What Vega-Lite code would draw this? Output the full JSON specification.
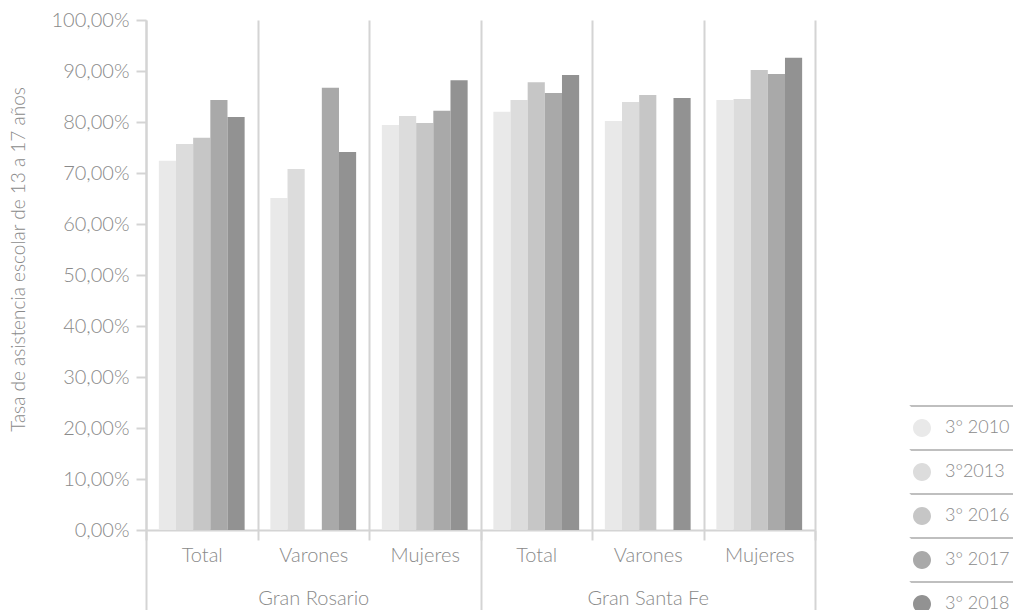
{
  "$schema": "https://vega.github.io/schema/vega-lite/v6.json",
  "autosize": {"type": "none"},
  "padding": {"left": 146, "top": 20, "right": 199, "bottom": 80},
  "width": 669,
  "height": 510,
  "background": "white",
  "config": {"view": {"stroke": null}, "font": "Lato"},
  "data": {"values": [
    {"region": "Gran Rosario", "grupo": "Gran Rosario|Total", "serie": "3° 2010", "valor": 0.724},
    {"region": "Gran Rosario", "grupo": "Gran Rosario|Total", "serie": "3°2013", "valor": 0.757},
    {"region": "Gran Rosario", "grupo": "Gran Rosario|Total", "serie": "3° 2016", "valor": 0.769},
    {"region": "Gran Rosario", "grupo": "Gran Rosario|Total", "serie": "3° 2017", "valor": 0.843},
    {"region": "Gran Rosario", "grupo": "Gran Rosario|Total", "serie": "3° 2018", "valor": 0.810},
    {"region": "Gran Rosario", "grupo": "Gran Rosario|Varones", "serie": "3° 2010", "valor": 0.651},
    {"region": "Gran Rosario", "grupo": "Gran Rosario|Varones", "serie": "3°2013", "valor": 0.708},
    {"region": "Gran Rosario", "grupo": "Gran Rosario|Varones", "serie": "3° 2017", "valor": 0.867},
    {"region": "Gran Rosario", "grupo": "Gran Rosario|Varones", "serie": "3° 2018", "valor": 0.741},
    {"region": "Gran Rosario", "grupo": "Gran Rosario|Mujeres", "serie": "3° 2010", "valor": 0.794},
    {"region": "Gran Rosario", "grupo": "Gran Rosario|Mujeres", "serie": "3°2013", "valor": 0.812},
    {"region": "Gran Rosario", "grupo": "Gran Rosario|Mujeres", "serie": "3° 2016", "valor": 0.798},
    {"region": "Gran Rosario", "grupo": "Gran Rosario|Mujeres", "serie": "3° 2017", "valor": 0.822},
    {"region": "Gran Rosario", "grupo": "Gran Rosario|Mujeres", "serie": "3° 2018", "valor": 0.882},
    {"region": "Gran Santa Fe", "grupo": "Gran Santa Fe|Total", "serie": "3° 2010", "valor": 0.820},
    {"region": "Gran Santa Fe", "grupo": "Gran Santa Fe|Total", "serie": "3°2013", "valor": 0.843},
    {"region": "Gran Santa Fe", "grupo": "Gran Santa Fe|Total", "serie": "3° 2016", "valor": 0.878},
    {"region": "Gran Santa Fe", "grupo": "Gran Santa Fe|Total", "serie": "3° 2017", "valor": 0.857},
    {"region": "Gran Santa Fe", "grupo": "Gran Santa Fe|Total", "serie": "3° 2018", "valor": 0.892},
    {"region": "Gran Santa Fe", "grupo": "Gran Santa Fe|Varones", "serie": "3° 2010", "valor": 0.802},
    {"region": "Gran Santa Fe", "grupo": "Gran Santa Fe|Varones", "serie": "3°2013", "valor": 0.839},
    {"region": "Gran Santa Fe", "grupo": "Gran Santa Fe|Varones", "serie": "3° 2016", "valor": 0.853},
    {"region": "Gran Santa Fe", "grupo": "Gran Santa Fe|Varones", "serie": "3° 2018", "valor": 0.847},
    {"region": "Gran Santa Fe", "grupo": "Gran Santa Fe|Mujeres", "serie": "3° 2010", "valor": 0.843},
    {"region": "Gran Santa Fe", "grupo": "Gran Santa Fe|Mujeres", "serie": "3°2013", "valor": 0.845},
    {"region": "Gran Santa Fe", "grupo": "Gran Santa Fe|Mujeres", "serie": "3° 2016", "valor": 0.902},
    {"region": "Gran Santa Fe", "grupo": "Gran Santa Fe|Mujeres", "serie": "3° 2017", "valor": 0.894},
    {"region": "Gran Santa Fe", "grupo": "Gran Santa Fe|Mujeres", "serie": "3° 2018", "valor": 0.926}
  ]},
  "layer": [
    {
      "mark": {"type": "bar"},
      "encoding": {
        "x": {
          "field": "grupo", "type": "nominal",
          "scale": {
            "domain": ["Gran Rosario|Total", "Gran Rosario|Varones", "Gran Rosario|Mujeres", "Gran Santa Fe|Total", "Gran Santa Fe|Varones", "Gran Santa Fe|Mujeres"],
            "paddingInner": 0, "paddingOuter": 0
          },
          "axis": {
            "title": null,
            "labelExpr": "split(datum.label, '|')[1]",
            "labelAngle": 0,
            "tickBand": "extent",
            "grid": true, "gridColor": "#d4d4d4", "gridWidth": 2,
            "ticks": true, "tickSize": 10, "tickColor": "#d4d4d4", "tickWidth": 2,
            "domain": true, "domainColor": "#d4d4d4", "domainWidth": 2,
            "labelPadding": 5, "labelFontSize": 20, "labelFontWeight": 300, "labelColor": "#8a8a8a"
          }
        },
        "xOffset": {
          "field": "serie", "type": "nominal",
          "scale": {"domain": ["3° 2010", "3°2013", "3° 2016", "3° 2017", "3° 2018"], "paddingInner": 0, "paddingOuter": 0.75}
        },
        "y": {
          "field": "valor", "type": "quantitative",
          "scale": {"domain": [0, 1], "nice": false},
          "axis": {
            "values": [0, 0.1, 0.2, 0.3, 0.4, 0.5, 0.6, 0.7, 0.8, 0.9, 1],
            "labelExpr": "replace(format(datum.value, '.2%'), '.', ',')",
            "grid": false,
            "tickSize": 10, "tickColor": "#d4d4d4", "tickWidth": 2,
            "domainColor": "#d4d4d4", "domainWidth": 2,
            "labelPadding": 7, "labelFontSize": 20, "labelFontWeight": 300, "labelColor": "#8a8a8a",
            "title": "Tasa de asistencia escolar de 13 a 17 años",
            "titleFontSize": 19, "titleFontWeight": 300, "titleColor": "#8a8a8a",
            "titleAngle": -90, "titleX": -128, "titleY": 239, "titleAlign": "center", "titleBaseline": "middle"
          }
        },
        "color": {
          "field": "serie", "type": "nominal",
          "scale": {"domain": ["3° 2010", "3°2013", "3° 2016", "3° 2017", "3° 2018"], "range": ["#e9e9e9", "#dcdcdc", "#c6c6c6", "#a9a9a9", "#929292"]},
          "legend": {
            "orient": "none", "legendX": 766, "legendY": 398, "title": null, "padding": 0,
            "symbolType": "M 10.111,-2.444 L -1.222,-2.444 L 0,-1 A 1,1 0 1,0 0,1 A 1,1 0 1,0 0,-1 L -1.222,-2.444 Z",
            "symbolSize": 324, "symbolOpacity": 1,
            "symbolStrokeColor": "#aaaaaa", "symbolStrokeWidth": 1.5, "symbolDash": [102, 3000],
            "labelFontSize": 18, "labelFontWeight": 300, "labelColor": "#8a8a8a", "labelOffset": 13,
            "rowPadding": 7,
            "encode": {"symbols": {"update": {"stroke": {"value": "#aaaaaa"}, "strokeWidth": {"value": 1.5}, "strokeDash": {"value": [102, 3000]}, "opacity": {"value": 1}}}}
          }
        }
      }
    },
    {
      "mark": {"type": "bar", "opacity": 0},
      "encoding": {
        "x": {
          "field": "region", "type": "nominal",
          "scale": {"domain": ["Gran Rosario", "Gran Santa Fe"], "paddingInner": 0, "paddingOuter": 0},
          "axis": {
            "orient": "bottom", "title": null, "labelAngle": 0,
            "tickBand": "extent", "grid": false,
            "ticks": true, "tickSize": 80, "tickColor": "#d4d4d4", "tickWidth": 2,
            "domain": false,
            "labelPadding": -22, "labelFontSize": 20, "labelFontWeight": 300, "labelColor": "#8a8a8a"
          }
        },
        "y": {"field": "valor", "type": "quantitative", "stack": null}
      }
    }
  ],
  "resolve": {"scale": {"x": "independent"}, "axis": {"x": "independent"}}
}
